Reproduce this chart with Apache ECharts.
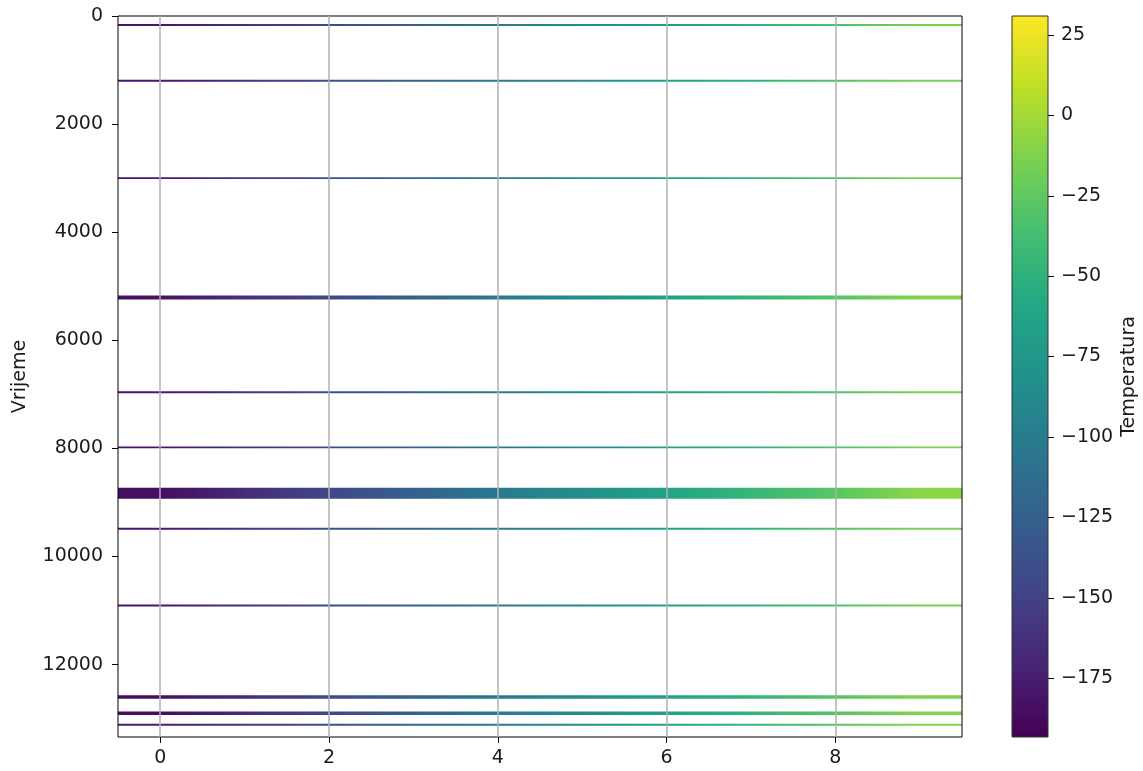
<!DOCTYPE html>
<html>
<head>
<meta charset="utf-8">
<script src="https://cdn.jsdelivr.net/npm/echarts@6/dist/echarts.min.js"></script>
<style>
html,body{margin:0;padding:0;background:#fff;}
#chart{width:1143px;height:771px;}
</style>
</head>
<body>
<div id="chart"></div>
<script>
// ---- data ----
const columns = [0, 1, 2, 3, 4, 5, 6, 7, 8, 9];
const rowStarts = [148, 1180, 2982, 5172, 6945, 7963, 8728, 9469, 10889, 12568, 12870, 13094];
const rowEnds   = [186, 1218, 3018, 5246, 6981, 7999, 8932, 9505, 10925, 12632, 12934, 13132];
const bandValues = [
  [-180, -162, -143, -123, -104, -86, -68, -50, -33, -15],
  [-179, -161, -142, -122, -103, -85, -67, -49, -32, -14],
  [-178, -160, -141, -121, -102, -84, -66, -48, -31, -13],
  [-183, -164, -145, -124, -103, -84, -65, -47, -30, -11],
  [-179, -161, -142, -122, -103, -85, -67, -49, -32, -14],
  [-180, -162, -143, -123, -104, -86, -68, -50, -33, -15],
  [-185, -166, -146, -124, -102, -83, -64, -45, -28, -8],
  [-178, -160, -141, -121, -102, -84, -66, -48, -31, -13],
  [-180, -162, -143, -123, -104, -86, -68, -50, -33, -15],
  [-184, -165, -145, -124, -103, -84, -65, -47, -30, -12],
  [-185, -166, -146, -124, -103, -84, -65, -47, -30, -11],
  [-176, -158, -139, -119, -100, -82, -64, -46, -29, -10]
];
const yTicks = [0, 2000, 4000, 6000, 8000, 10000, 12000];
const xTicks = [0, 2, 4, 6, 8];
const cbTicks = [-175, -150, -125, -100, -75, -50, -25, 0, 25];
const tempMin = -193.3, tempMax = 30.9;
const timeMax = 13340;

const viridis = ['#440154','#482475','#414487','#355f8d','#2a788e','#21918c','#22a884','#44bf70','#7ad151','#bddf26','#fde725'];

function hex2rgb(h){return [parseInt(h.substr(1,2),16),parseInt(h.substr(3,2),16),parseInt(h.substr(5,2),16)];}
const viridisRgb = viridis.map(hex2rgb);
function colorFor(v){
  let t = (v - tempMin) / (tempMax - tempMin);
  t = Math.max(0, Math.min(1, t));
  const p = t * (viridisRgb.length - 1);
  const i = Math.min(Math.floor(p), viridisRgb.length - 2);
  const f = p - i;
  const a = viridisRgb[i], b = viridisRgb[i+1];
  const c = a.map((x,k)=>Math.round(x + (b[k]-x)*f));
  return 'rgb(' + c.join(',') + ')';
}

const bandData = rowStarts.map((s, i) => [s, rowEnds[i], i]);
const minus = v => (v < 0 ? '\u2212' + Math.abs(v) : String(v));
const plain = v => String(v);
const FONT = 'DejaVu Sans';
const FS = 19;
const labelStyle = {color:'#1a1a1a', fontFamily:FONT, fontSize:FS};

const chart = echarts.init(document.getElementById('chart'), null, {renderer:'canvas'});
chart.setOption({
  animation:false,
  backgroundColor:'#fff',
  grid:[
    {left:118, top:16, width:844, height:721, show:true, borderColor:'#000', borderWidth:1, backgroundColor:'transparent', z:5},
    {left:1012, top:16, width:36, height:721, show:true, borderColor:'#333', borderWidth:1, backgroundColor:'transparent', z:5}
  ],
  xAxis:[
    {type:'value', gridIndex:0, min:-0.5, max:9.5, z:5, position:'bottom',
     axisLine:{show:false, onZero:false},
     axisTick:{show:true, length:6, lineStyle:{color:'#000'}, customValues:xTicks},
     axisLabel:{...labelStyle, margin:12, customValues:xTicks, formatter:plain},
     splitLine:{show:true, lineStyle:{color:'#b0b0b0', width:1.5}, customValues:xTicks}},
    {type:'value', gridIndex:1, min:0, max:1, show:false}
  ],
  yAxis:[
    {type:'value', gridIndex:0, min:0, max:timeMax, inverse:true, z:5, position:'left',
     name:'Vrijeme', nameLocation:'middle', nameGap:88, nameRotate:90,
     nameTextStyle:{color:'#1a1a1a', fontFamily:FONT, fontSize:FS},
     axisLine:{show:false, onZero:false},
     axisTick:{show:true, length:6, lineStyle:{color:'#000'}, customValues:yTicks},
     axisLabel:{...labelStyle, margin:15, customValues:yTicks, formatter:plain},
     splitLine:{show:false}},
    {type:'value', gridIndex:1, min:tempMin, max:tempMax, position:'right',
     name:'Temperatura', nameLocation:'middle', nameGap:72, nameRotate:90,
     nameTextStyle:{color:'#1a1a1a', fontFamily:FONT, fontSize:FS},
     axisLine:{show:false, onZero:false},
     axisTick:{show:true, length:6, lineStyle:{color:'#000'}, customValues:cbTicks},
     axisLabel:{...labelStyle, margin:13, customValues:cbTicks, formatter:minus},
     splitLine:{show:false}}
  ],
  series:[
    {type:'custom', xAxisIndex:0, yAxisIndex:0, clip:true, z:1, data:bandData,
     renderItem:function(params, api){
       const s = api.value(0), e = api.value(1), idx = api.value(2);
       const p0 = api.coord([-0.5, s]);
       const p1 = api.coord([9.5, e]);
       const vals = bandValues[idx];
       const stops = columns.map((c, k) => ({offset:(c + 0.5) / columns.length, color:colorFor(vals[k])}));
       return {type:'rect',
         shape:{x:p0[0], y:p0[1], width:p1[0]-p0[0], height:Math.max(1, p1[1]-p0[1])},
         style:{fill:new echarts.graphic.LinearGradient(0,0,1,0,stops)}};
     }},
    {type:'custom', xAxisIndex:1, yAxisIndex:1, z:1, data:[[0]],
     renderItem:function(params, api){
       const p0 = api.coord([0, tempMax]);
       const p1 = api.coord([1, tempMin]);
       const stops = viridis.map((c, k) => ({offset:k/(viridis.length-1), color:c}));
       return {type:'rect',
         shape:{x:p0[0], y:p0[1], width:p1[0]-p0[0], height:p1[1]-p0[1]},
         style:{fill:new echarts.graphic.LinearGradient(0,1,0,0,stops)}};
     }}
  ]
});
</script>
</body>
</html>
